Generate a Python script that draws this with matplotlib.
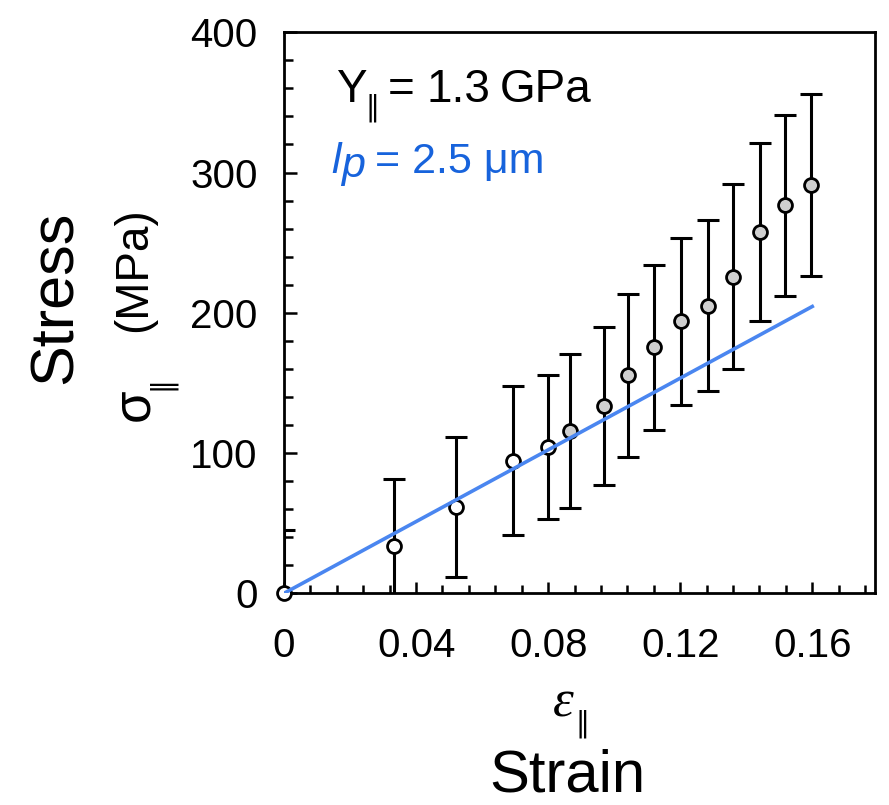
import matplotlib
matplotlib.use('Agg')
import matplotlib.pyplot as plt
from matplotlib.ticker import MultipleLocator

# Data
strain = [0.0, 0.0333, 0.0521, 0.0693, 0.0801, 0.0865, 0.0968, 0.1042,
          0.1121, 0.1201, 0.1283, 0.1359, 0.1442, 0.1518, 0.1597]
stress = [0.0, 33.9, 61.5, 94.5, 104.1, 115.9, 133.5, 155.4,
          175.4, 193.9, 205.1, 225.7, 257.4, 276.6, 290.9]
stress_err = [45.0, 47.6, 50.0, 53.0, 51.4, 55.0, 56.5, 58.0,
              58.7, 59.6, 61.2, 65.9, 63.4, 64.5, 65.0]
n_open = 5  # origin and first four points drawn as open circles

fit_strain = [0.0, 0.16]
fit_stress = [0.0, 204.5]

x_ticks = [0, 0.04, 0.08, 0.12, 0.16]
x_tick_labels = ['0', '0.04', '0.08', '0.12', '0.16']
y_ticks = [0, 100, 200, 300, 400]
y_tick_labels = ['0', '100', '200', '300', '400']

# Plot parameters
params = {
    'font.family': ['Liberation Sans', 'DejaVu Sans'],
    'axes.linewidth': 2.0,
    'xtick.labelsize': 29,
    'ytick.labelsize': 29,
}
plt.rcParams.update(params)

W, H = 889, 805


def px(x, y):
    """pixel position (from top-left) to figure fraction"""
    return x / W, 1 - y / H


fig = plt.figure(figsize=(W / 100, H / 100), dpi=100)
x0, y0 = px(284, 593.3)
x1, y1 = px(875, 32.3)
ax = fig.add_axes([x0, y0, x1 - x0, y1 - y0])

ax.errorbar(strain, stress, yerr=stress_err, fmt='none', ecolor='black',
            elinewidth=2.2, capsize=8, capthick=2.2, zorder=2)
ax.plot(strain[:n_open], stress[:n_open], 'o', ms=10, mfc='white', mec='black',
        mew=2.0, clip_on=False, zorder=3)
ax.plot(strain[n_open:], stress[n_open:], 'o', ms=10, mfc='#cfcfcf', mec='black',
        mew=2.0, clip_on=False, zorder=3)
ax.plot(fit_strain, fit_stress, '-', color='#4a86f0', lw=2.6, zorder=4)

ax.set_xlim(0, 0.179)
ax.set_ylim(0, 400)

ax.set_xticks(x_ticks, x_tick_labels)
ax.set_yticks(y_ticks, y_tick_labels)
ax.xaxis.set_minor_locator(MultipleLocator(0.008))
ax.yaxis.set_minor_locator(MultipleLocator(20))

ax.tick_params(which='both', direction='in', width=1.8, top=False, right=False)
ax.tick_params(axis='x', which='major', length=8, pad=24)
ax.tick_params(axis='x', which='minor', length=6)
ax.tick_params(axis='y', which='major', length=9, pad=19)
ax.tick_params(axis='y', which='minor', length=6.5)

# Annotations inside the axes
fig.text(*px(336, 102), 'Y', fontsize=33, va='baseline', ha='left')
fig.text(*px(372, 108), '\u2016', fontsize=20, family='DejaVu Sans', va='center', ha='center')
fig.text(*px(388, 102), '=', fontsize=33, va='baseline', ha='left')
fig.text(*px(427, 102), '1.3', fontsize=33, va='baseline', ha='left')
fig.text(*px(500, 102), 'GPa', fontsize=33, va='baseline', ha='left')

blue = '#1763dc'
fig.text(*px(331, 173), 'l', fontsize=31, style='italic', color=blue, va='baseline', ha='left')
fig.text(*px(341, 177), 'p', fontsize=31, style='italic', color=blue, va='baseline', ha='left')
fig.text(*px(375, 173), '= 2.5 \u03bcm', fontsize=31, color=blue, va='baseline', ha='left')

# Axis labels
fig.text(*px(56, 297), 'Stress', fontsize=44, rotation=90, ha='center', va='center')
fig.text(*px(134, 270), '(MPa)', fontsize=33, rotation=90, ha='center', va='center')
fig.text(*px(134, 405), '\u03c3', fontsize=38, rotation=90, ha='center', va='center')
fig.text(*px(161, 383), '\u2016', fontsize=20, family='DejaVu Sans', rotation=90, ha='center', va='center')

fig.text(*px(563, 703), '\u03b5', fontsize=38, family='Liberation Serif', style='italic', ha='center', va='center')
fig.text(*px(582, 724), '\u2016', fontsize=20, family='DejaVu Sans', ha='center', va='center')
fig.text(*px(567, 791), 'Strain', fontsize=43, ha='center', va='baseline')

fig.savefig('out.png', dpi=100)
